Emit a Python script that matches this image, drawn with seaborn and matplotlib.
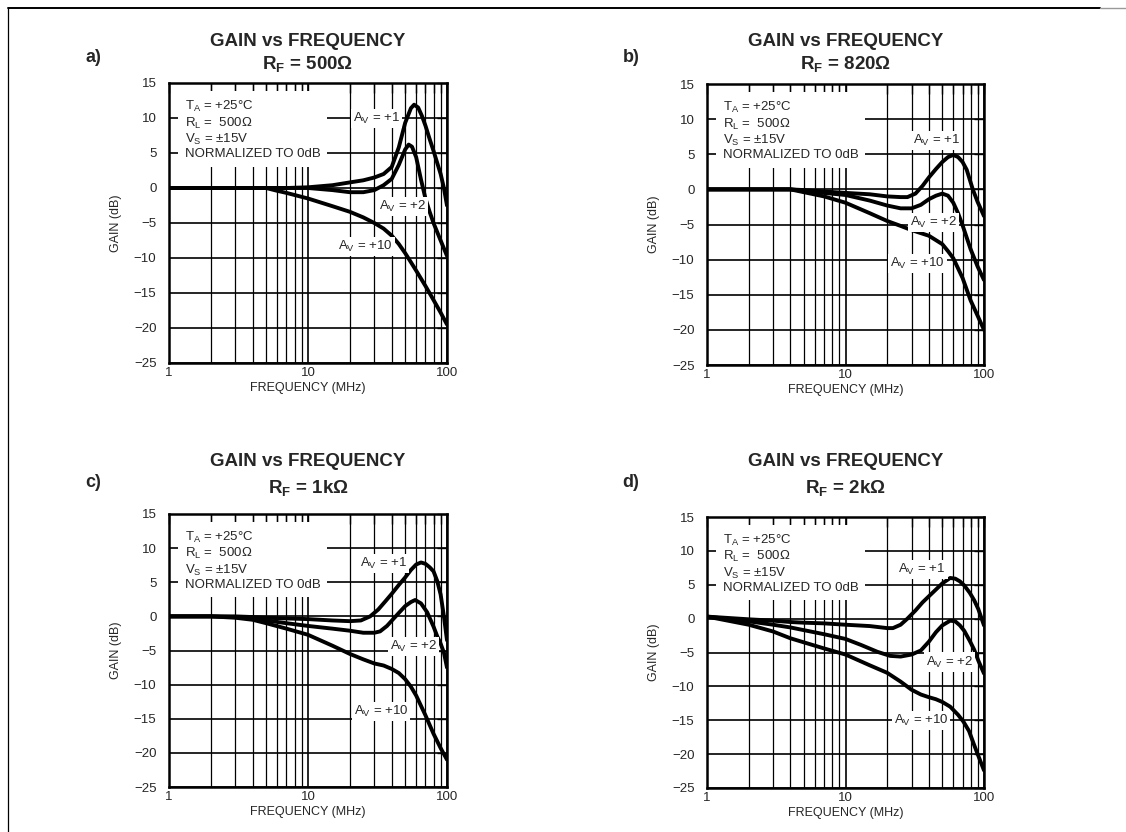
import matplotlib
matplotlib.use("Agg")
import matplotlib.pyplot as plt
import matplotlib.ticker as mticker
from matplotlib.lines import Line2D
import pandas as pd
import seaborn as sns

# Gain vs frequency curves (MHz, dB)
# R_F = 500 ohm
freq_500_av1 = [1, 2, 5, 7, 10, 15, 20, 25, 30, 35, 40, 45, 50, 55, 58, 62, 66, 70, 75, 80, 85, 90, 95, 100]
gain_500_av1 = [0, 0, 0, 0, 0.1, 0.4, 0.8, 1.1, 1.5, 2.0, 3.0, 5.8, 9.3, 11.4, 11.9, 11.5, 10.3, 8.9, 7.0, 5.3, 3.6, 2.0, 0, -2.5]
freq_500_av2 = [1, 2, 5, 7, 10, 15, 20, 25, 30, 35, 40, 45, 50, 53, 56, 60, 65, 70, 75, 80, 90, 100]
gain_500_av2 = [0, 0, 0, 0, 0, -0.3, -0.6, -0.6, -0.3, 0.4, 1.3, 3.3, 5.5, 6.2, 5.9, 4.4, 1.2, -1.5, -3.4, -5.0, -7.5, -9.7]
freq_500_av10 = [1, 2, 5, 6, 7, 10, 15, 20, 25, 30, 35, 40, 45, 50, 55, 60, 70, 80, 90, 100]
gain_500_av10 = [0, 0, 0, -0.4, -0.7, -1.5, -2.6, -3.4, -4.2, -5.0, -5.8, -6.8, -8.0, -9.3, -10.6, -11.8, -14.0, -16.0, -17.8, -19.5]

# R_F = 820 ohm
freq_820_av1 = [1, 2, 4, 5, 7, 10, 15, 20, 25, 28, 32, 36, 40, 45, 50, 55, 60, 65, 70, 75, 83, 90, 100]
gain_820_av1 = [0, 0, 0, -0.1, -0.3, -0.5, -0.7, -1.0, -1.1, -1.1, -0.6, 0.5, 1.7, 2.9, 3.9, 4.6, 4.9, 4.6, 3.9, 2.8, 0, -1.8, -3.8]
freq_820_av2 = [1, 2, 4, 5, 7, 10, 15, 20, 25, 30, 35, 40, 45, 50, 55, 60, 65, 70, 80, 90, 100]
gain_820_av2 = [0, 0, 0, -0.2, -0.5, -0.8, -1.6, -2.3, -2.7, -2.7, -2.2, -1.4, -0.9, -0.6, -0.9, -1.9, -3.4, -5.1, -8.5, -11.0, -12.9]
freq_820_av10 = [1, 2, 4, 5, 7, 10, 15, 20, 25, 30, 40, 50, 55, 60, 70, 80, 90, 100]
gain_820_av10 = [0, 0, 0, -0.4, -1.0, -1.9, -3.4, -4.5, -5.2, -5.8, -6.6, -7.8, -8.8, -9.8, -12.6, -15.8, -18.0, -20.0]

# R_F = 1k ohm
freq_1k_av1 = [1, 2, 3, 4, 5, 7, 10, 15, 20, 24, 28, 32, 36, 40, 45, 50, 55, 60, 65, 70, 75, 80, 85, 90, 95, 100]
gain_1k_av1 = [0, 0, 0, -0.1, -0.2, -0.3, -0.4, -0.6, -0.7, -0.6, 0.0, 1.0, 2.2, 3.3, 4.6, 5.7, 6.8, 7.6, 7.9, 7.7, 7.2, 6.6, 5.2, 3.2, 0, -3.5]
freq_1k_av2 = [1, 2, 3, 4, 5, 7, 10, 15, 20, 25, 30, 33, 37, 41, 45, 50, 55, 59, 65, 72, 80, 85, 90, 95, 100]
gain_1k_av2 = [0, 0, -0.1, -0.3, -0.6, -1.0, -1.4, -1.8, -2.1, -2.4, -2.4, -2.2, -1.4, -0.4, 0.5, 1.5, 2.1, 2.4, 1.9, 0.6, -1.5, -2.9, -4.0, -5.3, -7.5]
freq_1k_av10 = [1, 2, 3, 4, 5, 7, 10, 15, 20, 25, 30, 35, 40, 45, 50, 55, 60, 70, 80, 90, 100]
gain_1k_av10 = [0, 0, -0.2, -0.5, -1.0, -1.8, -2.7, -4.3, -5.5, -6.3, -6.9, -7.2, -7.7, -8.3, -9.2, -10.3, -11.6, -14.5, -17.2, -19.3, -21.0]

# R_F = 2k ohm
freq_2k_av1 = [1, 2, 3, 4, 5, 7, 10, 15, 20, 22, 25, 28, 32, 36, 40, 45, 50, 57, 62, 67, 72, 79, 85, 91, 100]
gain_2k_av1 = [0.3, -0.1, -0.3, -0.5, -0.6, -0.7, -0.9, -1.1, -1.4, -1.4, -0.9, 0, 1.2, 2.4, 3.3, 4.3, 5.2, 6.0, 5.9, 5.5, 4.9, 3.8, 2.7, 1.4, -1.0]
freq_2k_av2 = [1, 2, 3, 4, 5, 7, 10, 13, 17, 21, 25, 30, 35, 40, 45, 50, 57, 62, 67, 72, 79, 85, 91, 100]
gain_2k_av2 = [0.3, -0.4, -0.9, -1.3, -1.7, -2.3, -3.0, -3.9, -4.9, -5.5, -5.6, -5.3, -4.7, -3.4, -2.0, -1.0, -0.3, -0.4, -1.0, -1.8, -3.3, -4.6, -6.2, -8.1]
freq_2k_av10 = [1, 2, 3, 4, 5, 7, 10, 15, 20, 25, 30, 35, 40, 45, 50, 57, 65, 71, 78, 84, 90, 100]
gain_2k_av10 = [0.3, -0.9, -1.9, -2.9, -3.5, -4.4, -5.3, -6.9, -8.0, -9.3, -10.5, -11.2, -11.6, -11.9, -12.3, -13.0, -14.2, -15.2, -16.6, -18.4, -20.0, -22.4]

gain_ticks = [-25, -20, -15, -10, -5, 0, 5, 10, 15]
freq_ticks = [1, 10, 100]
conditions = "T$_\\mathrm{A}$ = +25°C\nR$_\\mathrm{L}$ =  500Ω\nV$_\\mathrm{S}$ = ±15V\nNORMALIZED TO 0dB"

W, H = 1126, 832


def px(x, y):
    """Pixel position -> figure fraction."""
    return x / W, 1 - y / H


def curves_frame(curves):
    parts = []
    for name, f, g in curves:
        parts.append(pd.DataFrame({"freq": f, "gain": g, "curve": name}))
    return pd.concat(parts, ignore_index=True)


panels = [
    {
        "tag": "a)", "rf": "500Ω", "box": (169, 83, 447, 363), "title_y": (41, 64), "tag_y": 58,
        "curves": [("+1", freq_500_av1, gain_500_av1), ("+2", freq_500_av2, gain_500_av2),
                   ("+10", freq_500_av10, gain_500_av10)],
        "labels": [("+1", 31, 9.9), ("+2", 47.5, -2.6), ("+10", 26, -8.3)],
    },
    {
        "tag": "b)", "rf": "820Ω", "box": (707, 84, 984, 365), "title_y": (41, 64), "tag_y": 58,
        "curves": [("+1", freq_820_av1, gain_820_av1), ("+2", freq_820_av2, gain_820_av2),
                   ("+10", freq_820_av10, gain_820_av10)],
        "labels": [("+1", 45.7, 6.9), ("+2", 43, -4.7), ("+10", 33, -10.6)],
    },
    {
        "tag": "c)", "rf": "1kΩ", "box": (169, 514, 447, 787), "title_y": (462, 488), "tag_y": 482,
        "curves": [("+1", freq_1k_av1, gain_1k_av1), ("+2", freq_1k_av2, gain_1k_av2),
                   ("+10", freq_1k_av10, gain_1k_av10)],
        "labels": [("+1", 35, 7.7), ("+2", 57, -4.4), ("+10", 33.5, -13.9)],
    },
    {
        "tag": "d)", "rf": "2kΩ", "box": (707, 517, 984, 788), "title_y": (462, 488), "tag_y": 482,
        "curves": [("+1", freq_2k_av1, gain_2k_av1), ("+2", freq_2k_av2, gain_2k_av2),
                   ("+10", freq_2k_av10, gain_2k_av10)],
        "labels": [("+1", 35.7, 7.3), ("+2", 56, -6.4), ("+10", 35, -15)],
    },
]


def main():
    sns.set_style("white")
    plt.rcParams["font.family"] = ["Liberation Sans", "DejaVu Sans"]
    plt.rcParams["mathtext.fontset"] = "custom"
    plt.rcParams["mathtext.rm"] = "Liberation Sans"
    plt.rcParams["mathtext.bf"] = "Liberation Sans:bold"
    plt.rcParams["axes.unicode_minus"] = True

    fig = plt.figure(figsize=(W / 100, H / 100), dpi=100)
    fig.patch.set_facecolor("white")

    # page frame from the scanned datasheet
    fig.add_artist(Line2D([8 / W, 1100 / W], [1 - 8 / H] * 2, color="black", lw=1.4))
    fig.add_artist(Line2D([1100 / W, 1126 / W], [1 - 8 / H] * 2, color="0.6", lw=1.0))
    fig.add_artist(Line2D([8 / W] * 2, [1 - 8 / H, 0], color="black", lw=0.9))

    for p in panels:
        x0, y0, x1, y1 = p["box"]
        ax = fig.add_axes([x0 / W, 1 - y1 / H, (x1 - x0) / W, (y1 - y0) / H])
        data = curves_frame(p["curves"])
        sns.lineplot(data=data, x="freq", y="gain", units="curve", estimator=None,
                     color="black", linewidth=2.8, ax=ax, legend=False)

        ax.set_xscale("log")
        ax.set_xlim(1, 100)
        ax.set_ylim(-25, 15)
        ax.set_xticks(freq_ticks)
        ax.set_xticklabels([str(t) for t in freq_ticks])
        ax.xaxis.set_minor_locator(mticker.LogLocator(base=10, subs=range(2, 10)))
        ax.xaxis.set_minor_formatter(mticker.NullFormatter())
        ax.set_yticks(gain_ticks)

        ax.set_axisbelow(True)
        ax.grid(which="major", color="black", lw=1.2)
        ax.grid(which="minor", axis="x", color="black", lw=0.9)
        ax.tick_params(which="both", direction="in", top=True, right=True,
                       color="black", width=1.0, length=7, labelsize=9.5)
        ax.tick_params(axis="y", pad=9)
        ax.tick_params(axis="x", pad=3)
        for s in ax.spines.values():
            s.set_color("black")
            s.set_linewidth(1.8)

        ax.set_xlabel("FREQUENCY (MHz)", fontsize=9)
        ax.set_ylabel("GAIN (dB)", fontsize=9)
        ax.xaxis.set_label_coords(0.5, -19 / (y1 - y0))
        ax.yaxis.set_label_coords(-47 / (x1 - x0), 0.5)

        ax.text(1.3, 12.7, conditions, ha="left", va="top", fontsize=9.5, linespacing=1.12,
                bbox=dict(boxstyle="square,pad=0.5", fc="white", ec="none"), zorder=3)
        for gain_tag, f, g in p["labels"]:
            ax.text(f, g, "A$_\\mathrm{V}$ = " + gain_tag, ha="center", va="center", fontsize=9.5,
                    bbox=dict(boxstyle="square,pad=0.15", fc="white", ec="none"), zorder=3)

        cx = (x0 + x1) / 2
        fig.text(*px(cx, p["title_y"][0]), "GAIN vs FREQUENCY", ha="center", va="center",
                 fontsize=13.5, fontweight="bold")
        fig.text(*px(cx, p["title_y"][1]), "$\\mathbf{R_F}$ = " + p["rf"], ha="center", va="center",
                 fontsize=13.5, fontweight="bold")
        fig.text(*px(x0 - 76, p["tag_y"]), p["tag"], ha="center", va="center",
                 fontsize=13, fontweight="bold")

    fig.savefig("out.png", dpi=100)


if __name__ == "__main__":
    main()
